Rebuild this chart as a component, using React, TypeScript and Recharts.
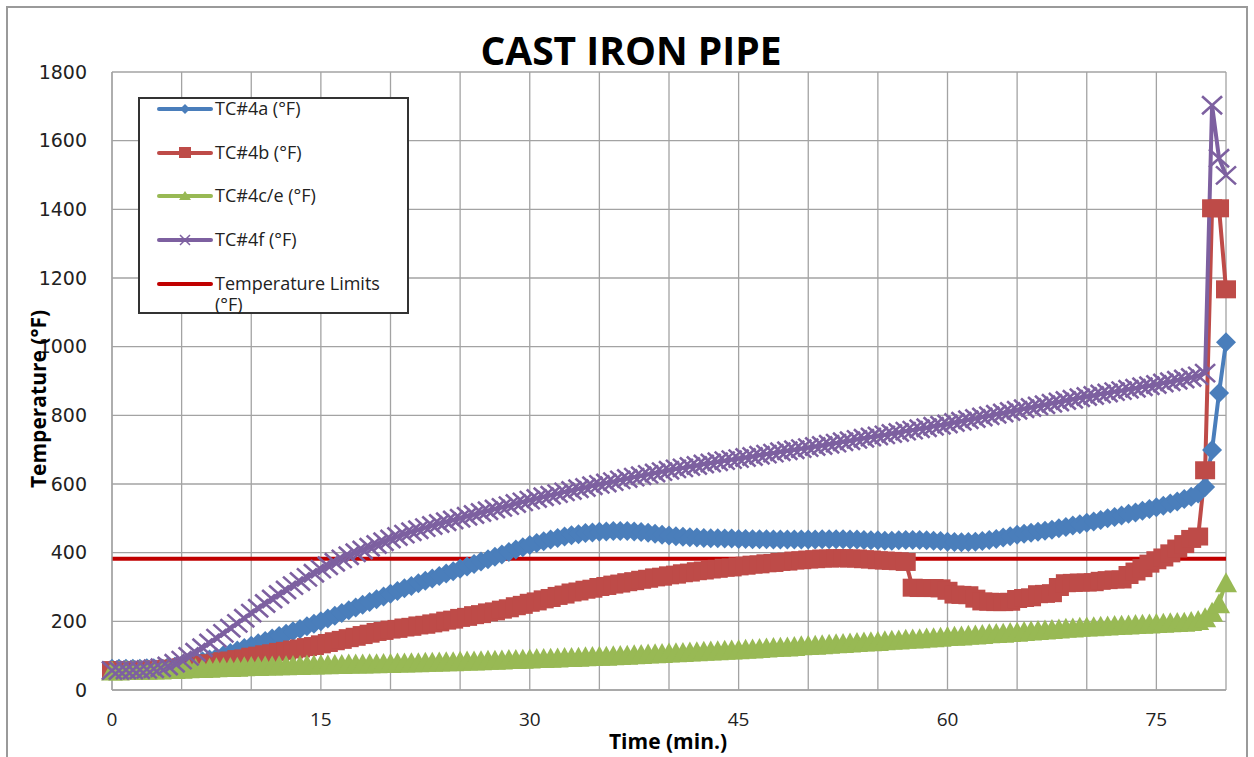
import React from 'react';
import { LineChart, Line, XAxis, YAxis, CartesianGrid } from 'recharts';

// Time in minutes (every 0.5 min)
const TIME = [
  0, 0.5, 1, 1.5, 2, 2.5, 3, 3.5, 4, 4.5,
  5, 5.5, 6, 6.5, 7, 7.5, 8, 8.5, 9, 9.5,
  10, 10.5, 11, 11.5, 12, 12.5, 13, 13.5, 14, 14.5,
  15, 15.5, 16, 16.5, 17, 17.5, 18, 18.5, 19, 19.5,
  20, 20.5, 21, 21.5, 22, 22.5, 23, 23.5, 24, 24.5,
  25, 25.5, 26, 26.5, 27, 27.5, 28, 28.5, 29, 29.5,
  30, 30.5, 31, 31.5, 32, 32.5, 33, 33.5, 34, 34.5,
  35, 35.5, 36, 36.5, 37, 37.5, 38, 38.5, 39, 39.5,
  40, 40.5, 41, 41.5, 42, 42.5, 43, 43.5, 44, 44.5,
  45, 45.5, 46, 46.5, 47, 47.5, 48, 48.5, 49, 49.5,
  50, 50.5, 51, 51.5, 52, 52.5, 53, 53.5, 54, 54.5,
  55, 55.5, 56, 56.5, 57, 57.5, 58, 58.5, 59, 59.5,
  60, 60.5, 61, 61.5, 62, 62.5, 63, 63.5, 64, 64.5,
  65, 65.5, 66, 66.5, 67, 67.5, 68, 68.5, 69, 69.5,
  70, 70.5, 71, 71.5, 72, 72.5, 73, 73.5, 74, 74.5,
  75, 75.5, 76, 76.5, 77, 77.5, 78, 78.5, 79, 79.5,
  80,
];

const TC4A = [
  62, 62, 62, 62, 62, 63, 63, 64, 66, 68,
  71, 75, 79, 84, 89, 95, 101, 108, 115, 122,
  129, 136, 143, 150, 157, 164, 171, 178, 186, 193,
  200, 208, 216, 224, 232, 240, 248, 256, 264, 272,
  280, 288, 296, 303, 311, 318, 325, 332, 339, 346,
  353, 360, 367, 374, 381, 388, 395, 402, 409, 416,
  422, 428, 433, 438, 443, 447, 451, 454, 457, 459,
  461, 462, 463, 463, 463, 462, 460, 458, 455, 452,
  450, 448, 446, 445, 444, 443, 442, 442, 441, 441,
  440, 440, 439, 439, 439, 438, 438, 438, 438, 438,
  438, 438, 439, 439, 439, 439, 438, 438, 437, 436,
  436, 435, 435, 436, 437, 437, 437, 436, 435, 434,
  432, 431, 430, 431, 432, 434, 437, 440, 444, 448,
  452, 455, 458, 461, 464, 467, 471, 475, 479, 483,
  487, 491, 495, 500, 504, 508, 513, 517, 522, 527,
  532, 537, 543, 549, 556, 563, 572, 591, 699, 865,
  1013,
];

const TC4B = [
  58, 58, 58, 58, 58, 58, 60, 60, 62, 62,
  66, 68, 72, 74, 78, 80, 84, 86, 90, 92,
  97, 100, 104, 107, 111, 114, 118, 121, 125, 128,
  133, 137, 142, 146, 151, 155, 160, 164, 169, 172,
  176, 178, 182, 184, 188, 190, 194, 197, 202, 205,
  210, 213, 218, 221, 226, 229, 234, 238, 244, 248,
  254, 258, 264, 268, 274, 278, 284, 287, 292, 295,
  300, 303, 307, 310, 314, 317, 321, 324, 328, 330,
  334, 336, 340, 342, 346, 348, 351, 353, 356, 357,
  360, 362, 365, 366, 369, 370, 373, 374, 377, 378,
  380, 381, 383, 383, 384, 384, 383, 383, 381, 380,
  378, 377, 376, 375, 373, 298, 297, 297, 297, 296,
  289, 278, 277, 276, 266, 258, 257, 256, 256, 257,
  265, 268, 270, 279, 280, 282, 300, 311, 312, 313,
  313, 314, 318, 320, 322, 322, 335, 345, 355, 368,
  378, 386, 398, 412, 425, 440, 447, 640, 1403, 1403,
  1167,
];

const TC4CE = [
  57, 57, 58, 58, 59, 59, 60, 60, 61, 61,
  62, 63, 64, 64, 65, 66, 67, 67, 68, 69,
  70, 70, 71, 71, 72, 72, 73, 73, 74, 74,
  75, 75, 76, 76, 77, 77, 77, 78, 78, 79,
  79, 80, 80, 81, 81, 82, 82, 83, 84, 84,
  85, 86, 86, 87, 88, 88, 89, 90, 90, 91,
  92, 93, 93, 94, 95, 96, 96, 97, 98, 99,
  100, 100, 101, 102, 103, 104, 105, 106, 107, 108,
  109, 110, 111, 112, 113, 114, 115, 116, 117, 118,
  119, 120, 121, 122, 124, 125, 126, 127, 128, 130,
  131, 132, 133, 135, 136, 137, 138, 140, 141, 142,
  143, 145, 146, 147, 149, 150, 151, 153, 154, 155,
  157, 158, 159, 161, 162, 163, 165, 166, 167, 169,
  170, 172, 173, 175, 176, 178, 179, 181, 182, 184,
  185, 186, 187, 188, 189, 190, 191, 192, 193, 194,
  195, 196, 197, 198, 199, 201, 204, 212, 228, 253,
  314,
];

const TC4F = [
  57, 57, 58, 58, 59, 60, 62, 65, 70, 78,
  87, 98, 110, 123, 137, 151, 165, 180, 194, 209,
  224, 238, 252, 265, 278, 291, 304, 316, 328, 340,
  352, 362, 372, 382, 391, 400, 408, 416, 424, 432,
  440, 447, 454, 461, 467, 473, 479, 485, 490, 495,
  500, 506, 511, 517, 522, 527, 532, 537, 543, 548,
  553, 558, 563, 567, 572, 577, 581, 586, 590, 595,
  599, 603, 607, 612, 616, 620, 624, 628, 632, 636,
  640, 644, 647, 651, 654, 658, 661, 665, 668, 671,
  674, 677, 680, 684, 687, 690, 694, 697, 700, 703,
  706, 709, 712, 716, 719, 723, 726, 730, 733, 737,
  740, 743, 747, 750, 754, 757, 761, 764, 768, 771,
  775, 779, 783, 787, 791, 795, 799, 803, 807, 811,
  815, 819, 823, 827, 831, 835, 839, 843, 847, 851,
  855, 858, 862, 865, 869, 872, 876, 879, 883, 886,
  890, 894, 898, 902, 906, 910, 915, 923, 1703, 1549,
  1499,
];

const LIMIT = 382;

const X_TICKS = [0, 5, 10, 15, 20, 25, 30, 35, 40, 45, 50, 55, 60, 65, 70, 75, 80];
const X_LABELS = [0, 15, 30, 45, 60, 75];
const Y_TICKS = [0, 200, 400, 600, 800, 1000, 1200, 1400, 1600, 1800];

const SERIES_NAMES = ['TC#4a (°F)', 'TC#4b (°F)', 'TC#4c/e (°F)', 'TC#4f (°F)', 'Temperature Limits (°F)'];

const C_BLUE = '#4a7ebb';
const C_RED = '#be4b48';
const C_GREEN = '#98b954';
const C_PURPLE = '#7d60a0';
const C_LIMIT = '#c00000';
const GRID = '#a3a3a3';

const data = TIME.map((t, i) => ({
  t,
  a: TC4A[i],
  b: TC4B[i],
  ce: TC4CE[i],
  f: TC4F[i],
  limit: LIMIT,
}));

const diamondDot = (p: any) => {
  const { cx, cy, index } = p;
  if (cx == null || cy == null) return <g key={`da-${index}`} />;
  return (
    <path key={`da-${index}`} d={`M${cx},${cy - 10}L${cx + 10},${cy}L${cx},${cy + 10}L${cx - 10},${cy}Z`} fill={C_BLUE} />
  );
};
const squareDot = (p: any) => {
  const { cx, cy, index } = p;
  if (cx == null || cy == null) return <g key={`db-${index}`} />;
  return <rect key={`db-${index}`} x={cx - 10} y={cy - 9} width={20} height={18} fill={C_RED} />;
};
const triangleDot = (p: any) => {
  const { cx, cy, index } = p;
  if (cx == null || cy == null) return <g key={`dc-${index}`} />;
  return (
    <path key={`dc-${index}`} d={`M${cx},${cy - 10}L${cx + 11},${cy + 10}L${cx - 11},${cy + 10}Z`} fill={C_GREEN} />
  );
};
const crossDot = (p: any) => {
  const { cx, cy, index } = p;
  if (cx == null || cy == null) return <g key={`df-${index}`} />;
  return (
    <path
      key={`df-${index}`}
      d={`M${cx - 10},${cy - 9}L${cx + 10},${cy + 9}M${cx - 10},${cy + 9}L${cx + 10},${cy - 9}`}
      stroke={C_PURPLE}
      strokeWidth={2.6}
      fill="none"
    />
  );
};

const LegendIcon = ({ kind, color }: { kind: string; color: string }) => (
  <svg width={56} height={20} style={{ display: 'block' }}>
    <line x1={2} y1={10} x2={54} y2={10} stroke={color} strokeWidth={4} strokeLinecap="round" />
    {kind === 'diamond' && <path d="M28,5L33,10L28,15L23,10Z" fill={color} />}
    {kind === 'square' && <rect x={22} y={4} width={12} height={11} fill={color} />}
    {kind === 'triangle' && <path d="M28,5L34,14L22,14Z" fill={color} />}
    {kind === 'cross' && <path d="M23,5L33,15M23,15L33,5" stroke={color} strokeWidth={1.5} />}
  </svg>
);

const legendItems = [
  { kind: 'diamond', color: C_BLUE, top: 0 },
  { kind: 'square', color: C_RED, top: 44 },
  { kind: 'triangle', color: C_GREEN, top: 87 },
  { kind: 'cross', color: C_PURPLE, top: 131 },
  { kind: 'none', color: C_LIMIT, top: 175 },
];

const textFont = '"Open Sans", "Liberation Sans", sans-serif';

export default function App() {
  return (
    <div
      style={{
        position: 'absolute',
        left: 0,
        top: 0,
        width: 1254,
        height: 757,
        background: '#fff',
        overflow: 'hidden',
        fontFamily: textFont,
      }}
    >
      <div
        style={{
          position: 'absolute',
          left: 6,
          top: 6,
          width: 1242,
          height: 770,
          border: '2px solid #9a9a9a',
          boxSizing: 'border-box',
        }}
      />
      <div style={{ position: 'absolute', left: 0, top: 0 }}>
        <LineChart width={1254} height={757} data={data} margin={{ top: 72, right: 28, bottom: 27, left: 0 }}>
          <CartesianGrid stroke={GRID} strokeWidth={1.3} />
          <XAxis
            dataKey="t"
            type="number"
            domain={[0, 80]}
            ticks={X_TICKS}
            interval={0}
            tickFormatter={(v: number) => (X_LABELS.includes(v) ? String(v) : '')}
            tickLine={false}
            tickSize={8}
            tickMargin={15}
            height={40}
            axisLine={{ stroke: GRID, strokeWidth: 1.3 }}
            tick={{ fontFamily: textFont, fontSize: 19, fill: '#222' }}
          />
          <YAxis
            type="number"
            domain={[0, 1800]}
            ticks={Y_TICKS}
            interval={0}
            width={112}
            tickLine={false}
            tickSize={10}
            tickMargin={15}
            axisLine={{ stroke: GRID, strokeWidth: 1.3 }}
            tick={{ fontFamily: '"DejaVu Sans", Verdana, sans-serif', fontSize: 19, fill: '#222' }}
          />
          <Line
            type="linear"
            dataKey="a"
            name={SERIES_NAMES[0]}
            stroke={C_BLUE}
            strokeWidth={4}
            dot={diamondDot}
            activeDot={false}
            isAnimationActive={false}
          />
          <Line
            type="linear"
            dataKey="b"
            name={SERIES_NAMES[1]}
            stroke={C_RED}
            strokeWidth={4}
            dot={squareDot}
            activeDot={false}
            isAnimationActive={false}
          />
          <Line
            type="linear"
            dataKey="ce"
            name={SERIES_NAMES[2]}
            stroke={C_GREEN}
            strokeWidth={4}
            dot={triangleDot}
            activeDot={false}
            isAnimationActive={false}
          />
          <Line
            type="linear"
            dataKey="f"
            name={SERIES_NAMES[3]}
            stroke={C_PURPLE}
            strokeWidth={4}
            dot={crossDot}
            activeDot={false}
            isAnimationActive={false}
          />
          <Line
            type="linear"
            dataKey="limit"
            name={SERIES_NAMES[4]}
            stroke={C_LIMIT}
            strokeWidth={4}
            dot={false}
            activeDot={false}
            isAnimationActive={false}
          />
        </LineChart>
      </div>

      {/* Title */}
      <div
        style={{
          position: 'absolute',
          left: 631,
          top: 49,
          transform: 'translate(-50%, -50%)',
          fontSize: 39,
          fontWeight: 700,
          color: '#000',
          whiteSpace: 'nowrap',
          fontFamily: textFont,
        }}
      >
        CAST IRON PIPE
      </div>

      {/* Y axis title */}
      <div
        style={{
          position: 'absolute',
          left: 38,
          top: 399,
          transform: 'translate(-50%, -50%) rotate(-90deg)',
          fontSize: 21,
          fontWeight: 700,
          color: '#000',
          whiteSpace: 'nowrap',
          fontFamily: textFont,
        }}
      >
        Temperature (°F)
      </div>

      {/* X axis title */}
      <div
        style={{
          position: 'absolute',
          left: 668,
          top: 741,
          transform: 'translate(-50%, -50%)',
          fontSize: 21,
          lineHeight: '24px',
          fontWeight: 700,
          color: '#000',
          whiteSpace: 'nowrap',
          fontFamily: textFont,
        }}
      >
        Time (min.)
      </div>

      {/* Legend */}
      <div
        style={{
          position: 'absolute',
          left: 138,
          top: 97,
          width: 271,
          height: 217,
          border: '2px solid #333',
          boxSizing: 'border-box',
          background: '#fff',
        }}
      >
        {legendItems.map((it, i) => (
          <div key={i} style={{ position: 'absolute', left: 17, top: it.top }}>
            <LegendIcon kind={it.kind} color={it.color} />
          </div>
        ))}
        {SERIES_NAMES.map((name, i) => (
          <div
            key={name}
            style={{
              position: 'absolute',
              left: 75,
              top: legendItems[i].top - 1,
              width: 180,
              fontSize: 18,
              lineHeight: '21px',
              color: '#222',
              fontFamily: textFont,
            }}
          >
            {name}
          </div>
        ))}
      </div>
    </div>
  );
}
